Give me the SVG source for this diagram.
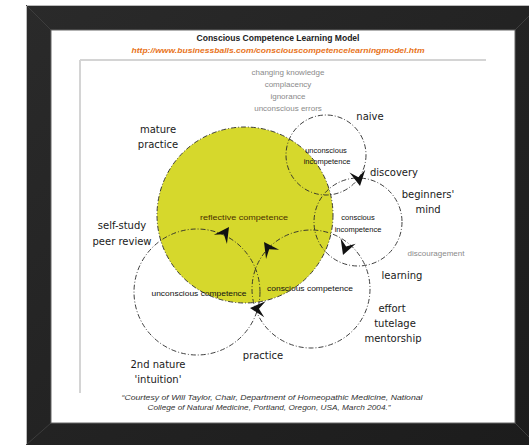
<svg xmlns="http://www.w3.org/2000/svg" width="529" height="445" viewBox="0 0 529 445">
<defs>
<style>
.lbl{font-family:"DejaVu Sans","Liberation Sans",sans-serif;font-size:10px;fill:#1a1a1a;text-anchor:middle}
.sm{font-family:"Liberation Sans",sans-serif;font-size:7.5px;fill:#111;text-anchor:middle}
.gray{font-family:"Liberation Sans",sans-serif;font-size:8px;fill:#8a8a8a;text-anchor:middle}
.ring{fill:none;stroke:#2a2a2a;stroke-width:0.9;stroke-dasharray:5 2 1 2}
.foot{font-family:"Liberation Sans",sans-serif;font-size:7px;font-style:italic;fill:#333;text-anchor:middle}
</style>
<linearGradient id="fr" x1="0" y1="0" x2="1" y2="1">
<stop offset="0" stop-color="#2a2a2a"/><stop offset="1" stop-color="#1c1c1c"/>
</linearGradient>
<path id="ah" d="M0,0 L-15,-8 L-9,0 L-15,8 Z" fill="#111"/>
</defs>
<rect width="529" height="445" fill="#fff"/>
<!-- frame -->
<rect x="26" y="5" width="503" height="440" fill="url(#fr)"/>
<line x1="26.5" y1="5" x2="26.5" y2="445" stroke="#bbb" stroke-width="1"/>
<line x1="26" y1="5.5" x2="529" y2="5.5" stroke="#bbb" stroke-width="1"/>
<path d="M26,5 L51,30 M515,30 L529,16 M51,423 L26,445 M515,423 L529,437" stroke="#3d3d3d" stroke-width="1"/>
<rect x="51" y="30" width="464" height="393" fill="#fff" stroke="#666" stroke-width="1"/>
<line x1="80" y1="60" x2="486" y2="60" stroke="#d4d4d4" stroke-width="2"/>
<line x1="80" y1="60" x2="80" y2="393" stroke="#d4d4d4" stroke-width="2"/>
<!-- header -->
<text x="278" y="41" font-family="Liberation Sans,sans-serif" font-size="8.5" font-weight="bold" fill="#222" text-anchor="middle" textLength="163" lengthAdjust="spacingAndGlyphs">Conscious Competence Learning Model</text>
<text x="278" y="53" font-family="Liberation Sans,sans-serif" font-size="8" font-style="italic" font-weight="bold" fill="#e8731a" text-anchor="middle" textLength="293" lengthAdjust="spacingAndGlyphs">http://www.businessballs.com/consciouscompetencelearningmodel.htm</text>
<g id="top-notes">
<text class="gray" x="288" y="75">changing knowledge</text>
<text class="gray" x="288" y="87">complacency</text>
<text class="gray" x="288" y="99">ignorance</text>
<text class="gray" x="288" y="111">unconscious errors</text>
</g>
<!-- nodes -->
<g id="reflective-competence">
<circle cx="245" cy="215" r="88" fill="#d6d82c" stroke="#2a2a2a" stroke-width="0.9" stroke-dasharray="5 2 1 2"/>
<text class="sm" x="244" y="220" textLength="88" lengthAdjust="spacingAndGlyphs" style="fill:#4a3000">reflective competence</text>
</g>
<g id="unconscious-incompetence">
<circle class="ring" cx="326" cy="155" r="40"/>
<text class="sm" x="326" y="153">unconscious</text>
<text class="sm" x="327" y="164">incompetence</text>
</g>
<g id="conscious-incompetence">
<circle class="ring" cx="358" cy="222" r="44"/>
<text class="sm" x="358" y="220">conscious</text>
<text class="sm" x="358" y="232">incompetence</text>
</g>
<g id="unconscious-competence">
<circle class="ring" cx="197" cy="292" r="63"/>
<text class="sm" x="199" y="296" textLength="95" lengthAdjust="spacingAndGlyphs">unconscious competence</text>
</g>
<g id="conscious-competence">
<circle class="ring" cx="311" cy="289" r="59"/>
<text class="sm" x="310" y="291" textLength="86" lengthAdjust="spacingAndGlyphs">conscious competence</text>
</g>
<!-- connectors -->
<g id="connectors">
<use href="#ah" transform="translate(360,186) rotate(80)"/>
<use href="#ah" transform="translate(343,255) rotate(110)"/>
<use href="#ah" transform="translate(250,308) rotate(185)"/>
<use href="#ah" transform="translate(229,227) rotate(-55)"/>
<use href="#ah" transform="translate(264,242) rotate(-125)"/>
</g>
<!-- labels -->
<g id="labels">
<text class="lbl" x="158" y="133">mature</text>
<text class="lbl" x="158" y="148">practice</text>
<text class="lbl" x="370" y="120">naive</text>
<text class="lbl" x="394" y="176">discovery</text>
<text class="lbl" x="428" y="198">beginners'</text>
<text class="lbl" x="428" y="213">mind</text>
<text class="gray" x="436" y="256">discouragement</text>
<text class="lbl" x="402" y="279">learning</text>
<text class="lbl" x="392" y="312">effort</text>
<text class="lbl" x="395" y="327">tutelage</text>
<text class="lbl" x="393" y="342">mentorship</text>
<text class="lbl" x="263" y="359">practice</text>
<text class="lbl" x="122" y="229">self-study</text>
<text class="lbl" x="122" y="245">peer review</text>
<text class="lbl" x="158" y="368">2nd nature</text>
<text class="lbl" x="158" y="383">'intuition'</text>
</g>
<text class="foot" x="272" y="400" textLength="301" lengthAdjust="spacingAndGlyphs">“Courtesy of Will Taylor, Chair, Department of Homeopathic Medicine, National</text>
<text class="foot" x="269" y="410" textLength="243" lengthAdjust="spacingAndGlyphs">College of Natural Medicine, Portland, Oregon, USA, March 2004.”</text>
</svg>
